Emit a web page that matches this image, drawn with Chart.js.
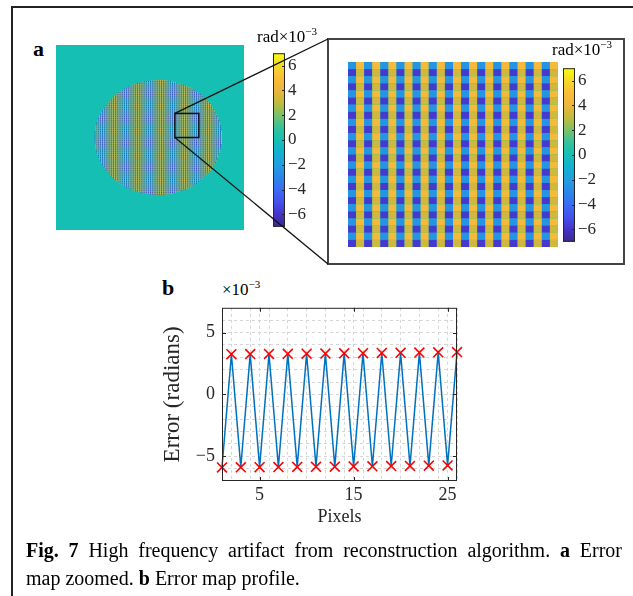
<!DOCTYPE html>
<html>
<head>
<meta charset="utf-8">
<script src="https://cdn.jsdelivr.net/npm/chart.js@4.4.1/dist/chart.umd.min.js"></script>
<style>
  body { margin: 0; background: #fff; }
  #fig { position: relative; width: 633px; height: 596px; overflow: hidden;
         font-family: "Liberation Serif", "Times New Roman", serif; color: #000; }
  #frame { position: absolute; left: 11px; top: 6px; width: 700px; height: 700px;
           border-left: 2px solid #222; border-top: 2px solid #222; }
  #zoomPanel { position: absolute; left: 327px; top: 38px; width: 294px; height: 223px;
               border: 2px solid #444; }
  canvas { position: absolute; }
  .lbl { position: absolute; white-space: nowrap; line-height: 1; }
  .lbl sup { font-size: 11px; vertical-align: 7px; line-height: 0; }
  .panel { font-weight: bold; font-size: 22px; }
  #cap1, #cap2 { position: absolute; left: 26px; font-size: 20px; line-height: 1; white-space: nowrap; }
  #cap1 { width: 596px; text-align: justify; text-align-last: justify; top: 540px; }
  #cap2 { top: 568px; }
  #links { position: absolute; left: 0; top: 0; }
</style>
</head>
<body>
<div id="fig">
  <div id="frame"></div>
  <div class="lbl panel" style="left:33px; top:38px;">a</div>
  <canvas id="map" width="188" height="185" style="left:56px; top:45px;"></canvas>
  <canvas id="cbLeft" width="60" height="200" style="left:266px; top:40px;"></canvas>
  <div class="lbl" style="left:257px; top:28px; font-size:17px;">rad×10<sup>−3</sup></div>

  <div id="zoomPanel"></div>
  <canvas id="zoomMap" width="210" height="185" style="left:348px; top:62px;"></canvas>
  <canvas id="cbRight" width="60" height="200" style="left:556px; top:55px;"></canvas>
  <div class="lbl" style="left:552px; top:41px; font-size:17px;">rad×10<sup>−3</sup></div>

  <div class="lbl panel" style="left:162px; top:277px;">b</div>
  <div class="lbl" style="left:222px; top:281px; font-size:17px;">×10<sup>−3</sup></div>
  <canvas id="profile" width="320" height="245" style="left:150px; top:290px;"></canvas>

  <svg id="links" width="633" height="596">
    <line id="linkTop" stroke="#111" stroke-width="1.3"></line>
    <line id="linkBottom" stroke="#111" stroke-width="1.3"></line>
  </svg>

  <div id="cap1"><b>Fig. 7</b> High frequency artifact from reconstruction algorithm. <b>a</b> Error</div>
  <div id="cap2">map zoomed. <b>b</b> Error map profile.</div>
</div>

<script>
// colour scale (rad x 1e-3)
const cbRange = [-7, 7];
const cbTicks = [-6, -4, -2, 0, 2, 4, 6];
const cmapVals = [-7, -6, -5, -4, -3, -2, -1, 0, 1, 2, 3, 4, 5, 6, 7];
const cmapColors = ['#3a2a8f', '#4434c8', '#4450ee', '#3a6cf5', '#2a86ea', '#229fdf', '#12b0d2',
  '#16bfb4', '#35c29c', '#7ac26a', '#c0bb3c', '#edb53d', '#f8be36', '#f5d82a', '#f9fb0e'];

// error map: 2x2 repeating tile inside the circular aperture, 0 outside
const tileRow1 = [-2.4, 4.6];
const tileRow2 = [-5.8, 3.3];
const mapCols = 204, mapRows = 200;
const spotCenter = [111, 100];
const spotRadius = [69, 62];
const zoomBox = [129, 74, 26, 26];   // col, row, width, height (pixels)

// profile (b)
const pixels = [1, 2, 3, 4, 5, 6, 7, 8, 9, 10, 11, 12, 13, 14, 15, 16, 17, 18, 19, 20, 21, 22, 23, 24, 25, 26];
const errorVals = [-5.90, 3.25, -5.89, 3.26, -5.88, 3.27, -5.87, 3.28, -5.86, 3.29, -5.85, 3.30, -5.84,
  3.32, -5.82, 3.33, -5.81, 3.35, -5.79, 3.36, -5.78, 3.38, -5.76, 3.40, -5.74, 3.42];
const xGrid = [2, 4, 5, 6, 8, 10, 12, 14, 15, 16, 18, 20, 22, 24, 25, 26];
const xLabels = [5, 15, 25];
const yGrid = [-6, -5, -4, -3, -2, -1, 0, 1, 2, 3, 4, 5, 6];
const yLabels = [-5, 0, 5];

const tile = [tileRow1, tileRow2];
const serif = 'Liberation Serif';

function fmt(v) { return v < 0 ? '\u2212' + Math.abs(v) : String(v); }

function hexRgb(h) { return [1, 3, 5].map(i => parseInt(h.substr(i, 2), 16)); }
function colorOf(v) {
  if (v <= cmapVals[0]) return cmapColors[0];
  for (let i = 1; i < cmapVals.length; i++) {
    if (v <= cmapVals[i]) {
      const t = (v - cmapVals[i - 1]) / (cmapVals[i] - cmapVals[i - 1]);
      const a = hexRgb(cmapColors[i - 1]), b = hexRgb(cmapColors[i]);
      return 'rgb(' + a.map((c, k) => Math.round(c + (b[k] - c) * t)).join(',') + ')';
    }
  }
  return cmapColors[cmapColors.length - 1];
}

// cells are drawn at their true (fractional) size on top of a zero-valued background
function heatPlugin(cols, rows, valueAt, box) {
  return {
    id: 'heat',
    beforeDatasetsDraw(chart) {
      const { ctx, scales: { x, y } } = chart;
      const cache = {};
      ctx.fillStyle = colorOf(0);
      ctx.fillRect(x.getPixelForValue(0), y.getPixelForValue(0),
        x.getPixelForValue(cols) - x.getPixelForValue(0), y.getPixelForValue(rows) - y.getPixelForValue(0));
      for (let r = 0; r < rows; r++) {
        const y0 = y.getPixelForValue(r), y1 = y.getPixelForValue(r + 1);
        for (let c = 0; c < cols; c++) {
          const v = valueAt(r, c);
          if (v === 0) continue;
          ctx.fillStyle = cache[v] || (cache[v] = colorOf(v));
          const x0 = x.getPixelForValue(c), x1 = x.getPixelForValue(c + 1);
          ctx.fillRect(x0, y0, x1 - x0, y1 - y0);
        }
      }
      if (box) {
        const bx0 = x.getPixelForValue(box[0]), bx1 = x.getPixelForValue(box[0] + box[2]);
        const by0 = y.getPixelForValue(box[1]), by1 = y.getPixelForValue(box[1] + box[3]);
        ctx.save();
        ctx.strokeStyle = '#111';
        ctx.lineWidth = 1.5;
        ctx.strokeRect(bx0, by0, bx1 - bx0, by1 - by0);
        ctx.restore();
      }
    }
  };
}

function heatChart(id, cols, rows, valueAt, box) {
  return new Chart(document.getElementById(id), {
    type: 'scatter',
    data: { datasets: [] },
    options: {
      responsive: false, animation: false, events: [],
      layout: { padding: 0 },
      plugins: { legend: { display: false }, tooltip: { enabled: false } },
      scales: {
        x: { type: 'linear', min: 0, max: cols, display: false },
        y: { type: 'linear', min: 0, max: rows, reverse: true, display: false }
      }
    },
    plugins: [heatPlugin(cols, rows, valueAt, box)]
  });
}

// box + inward tick marks, matlab style
const framePlugin = {
  id: 'frame',
  afterDraw(chart, args, opts) {
    const { ctx, chartArea: a, scales } = chart;
    const L = opts.len || 4;
    ctx.save();
    ctx.strokeStyle = opts.color || '#262626';
    ctx.lineWidth = 1;
    ctx.strokeRect(a.left + 0.5, a.top + 0.5, a.right - a.left - 1, a.bottom - a.top - 1);
    ctx.beginPath();
    (opts.xTicks || []).forEach(v => {
      const px = Math.round(scales.x.getPixelForValue(v)) + 0.5;
      ctx.moveTo(px, a.bottom); ctx.lineTo(px, a.bottom - L);
      ctx.moveTo(px, a.top); ctx.lineTo(px, a.top + L);
    });
    (opts.yTicks || []).forEach(v => {
      const py = Math.round(scales.y.getPixelForValue(v)) + 0.5;
      if (opts.leftTicks !== false) { ctx.moveTo(a.left, py); ctx.lineTo(a.left + L, py); }
      ctx.moveTo(a.right, py); ctx.lineTo(a.right - L, py);
    });
    ctx.stroke();
    ctx.restore();
  }
};

function colorbar(id, padTop, padBottom) {
  return new Chart(document.getElementById(id), {
    type: 'bar',
    data: {
      labels: ['cb'],
      datasets: [{
        data: [cbRange],
        borderWidth: 0, barPercentage: 1, categoryPercentage: 1,
        backgroundColor: (c) => {
          const chart = c.chart, ys = chart.scales.y;
          if (!chart.chartArea || !ys) return cmapColors[7];
          const g = chart.ctx.createLinearGradient(0, ys.getPixelForValue(cbRange[0]), 0, ys.getPixelForValue(cbRange[1]));
          cmapVals.forEach((v, i) => g.addColorStop((v - cbRange[0]) / (cbRange[1] - cbRange[0]), cmapColors[i]));
          return g;
        }
      }]
    },
    options: {
      responsive: false, animation: false, events: [],
      layout: { padding: { left: 7, top: padTop, bottom: padBottom, right: 0 } },
      plugins: {
        legend: { display: false }, tooltip: { enabled: false },
        frame: { yTicks: cbTicks, leftTicks: false, len: 3 }
      },
      scales: {
        x: { display: false },
        y: {
          position: 'right', min: cbRange[0], max: cbRange[1],
          afterFit: s => { s.width = 41; },
          afterBuildTicks: s => { s.ticks = cbTicks.map(v => ({ value: v })); },
          grid: { display: false, drawTicks: false },
          border: { display: false },
          ticks: { padding: 3, color: '#262626', font: { family: serif, size: 17 }, callback: v => fmt(v) }
        }
      }
    },
    plugins: [framePlugin]
  });
}

const mapChart = heatChart('map', mapCols, mapRows, (r, c) => {
  const dx = (c + 0.5 - spotCenter[0]) / spotRadius[0], dy = (r + 0.5 - spotCenter[1]) / spotRadius[1];
  return dx * dx + dy * dy <= 1 ? tile[r % 2][c % 2] : 0;
}, zoomBox);
heatChart('zoomMap', zoomBox[2], zoomBox[3], (r, c) => tile[r % 2][c % 2]);
colorbar('cbLeft', 7, 10);
colorbar('cbRight', 7, 8);

const tickFont = { family: serif, size: 18 };
new Chart(document.getElementById('profile'), {
  type: 'line',
  data: {
    datasets: [{
      data: pixels.map((p, i) => ({ x: p, y: errorVals[i] })),
      borderColor: '#0072BD', borderWidth: 1.5, tension: 0, fill: false, clip: false,
      pointStyle: 'crossRot', pointRadius: 7, pointBorderWidth: 1.6,
      pointBorderColor: '#ff0000', pointBackgroundColor: '#ff0000'
    }]
  },
  options: {
    responsive: false, animation: false, events: [],
    layout: { padding: { left: 0, top: 11, right: 13, bottom: 0 } },
    plugins: {
      legend: { display: false }, tooltip: { enabled: false },
      frame: { xTicks: xLabels, yTicks: yLabels, len: 4 }
    },
    scales: {
      x: {
        type: 'linear', min: 1, max: 26,
        afterBuildTicks: s => { s.ticks = xGrid.map(v => ({ value: v })); },
        afterFit: s => { s.height = 54; },
        grid: { color: '#d6d6d6', drawTicks: false },
        border: { display: false, dash: [3, 3] },
        ticks: { autoSkip: false, maxRotation: 0, padding: 3, color: '#262626', font: tickFont,
                 callback: v => xLabels.includes(v) ? fmt(v) : '' },
        title: { display: true, text: 'Pixels', color: '#262626', font: tickFont, padding: { top: 0, bottom: 7 } }
      },
      y: {
        min: -7, max: 7,
        afterBuildTicks: s => { s.ticks = yGrid.map(v => ({ value: v })); },
        afterFit: s => { s.width = 72; },
        grid: { color: '#d6d6d6', drawTicks: false },
        border: { display: false, dash: [3, 3] },
        ticks: { autoSkip: false, padding: 7, color: '#262626', font: tickFont,
                 callback: v => yLabels.includes(v) ? fmt(v) : '' },
        title: { display: true, text: 'Error (radians)', color: '#262626', font: { family: serif, size: 23 },
                 padding: { top: 9, bottom: 0 } }
      }
    }
  },
  plugins: [framePlugin]
});

// connector lines from the zoom box to the enlarged panel
const mc = document.getElementById('map'), panel = document.getElementById('zoomPanel');
const sx = mapChart.scales.x, sy = mapChart.scales.y;
const bxl = mc.offsetLeft + sx.getPixelForValue(zoomBox[0]);
const byt = mc.offsetTop + sy.getPixelForValue(zoomBox[1]);
const byb = mc.offsetTop + sy.getPixelForValue(zoomBox[1] + zoomBox[3]);
function setLine(id, x1, y1, x2, y2) {
  const l = document.getElementById(id);
  l.setAttribute('x1', x1); l.setAttribute('y1', y1); l.setAttribute('x2', x2); l.setAttribute('y2', y2);
}
setLine('linkTop', bxl, byt, panel.offsetLeft + 1, panel.offsetTop + 1);
setLine('linkBottom', bxl, byb, panel.offsetLeft + 1, panel.offsetTop + panel.offsetHeight - 1);
</script>
</body>
</html>
